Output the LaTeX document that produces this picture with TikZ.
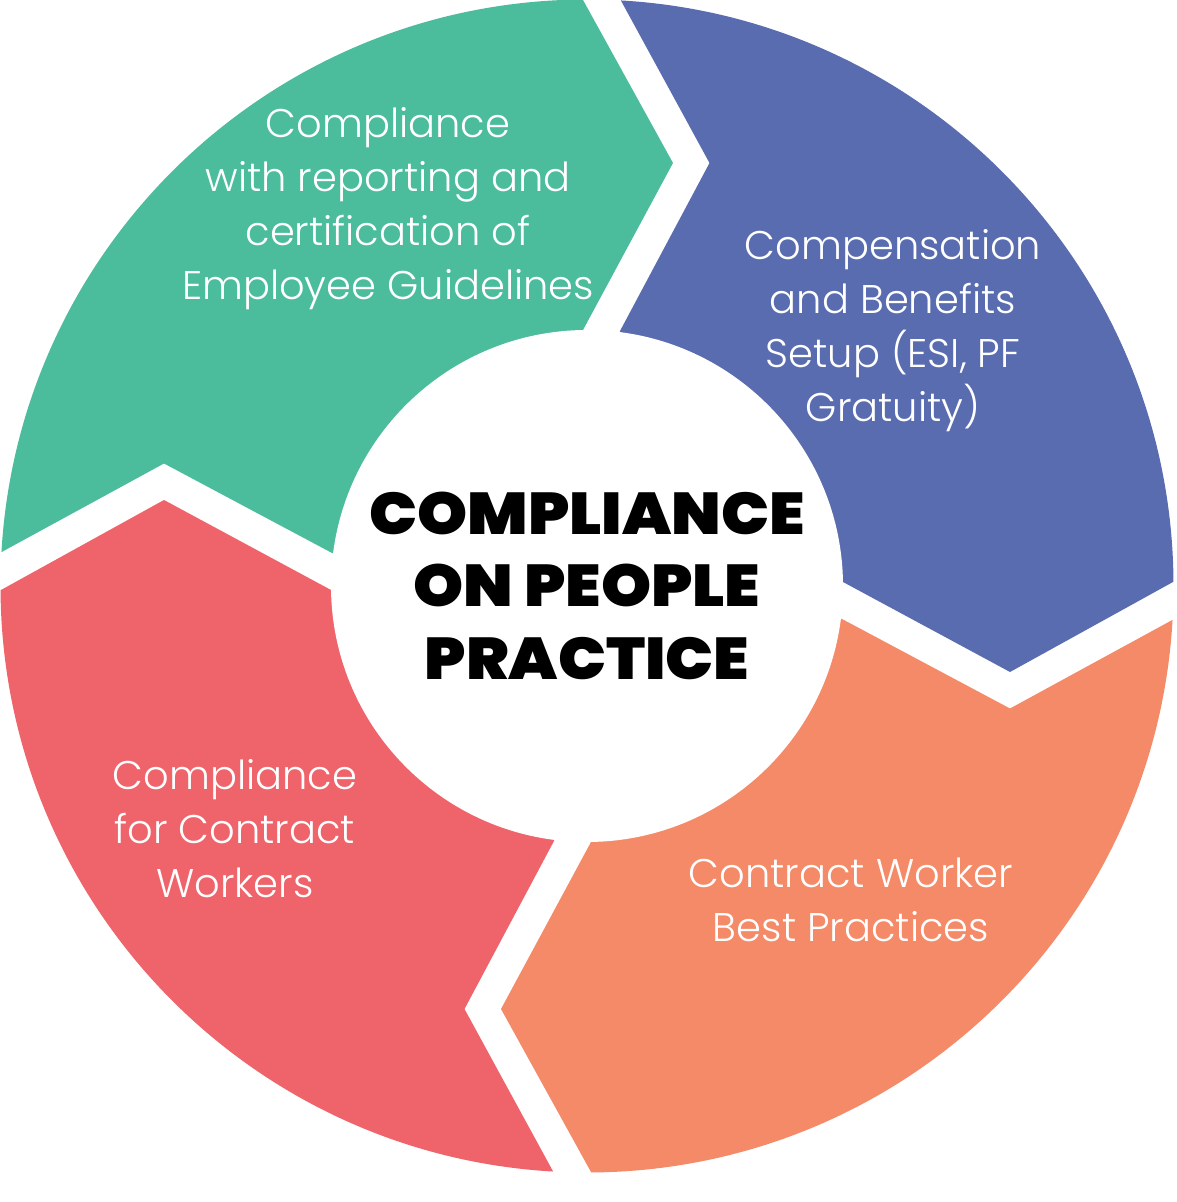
\documentclass[tikz,border=0pt]{standalone}
\usepackage{fontspec}
\setmainfont{Poppins}
\newfontfamily\lightfont{Poppins Light}
\newfontfamily\heavyfont{Poppins Black}[FakeStretch=1.08]
\definecolor{cgreen}{RGB}{75,188,156}
\definecolor{cblue}{RGB}{90,108,176}
\definecolor{corange}{RGB}{244,138,103}
\definecolor{cred}{RGB}{239,99,106}
\tikzset{
  segtext/.style={text=white, align=center, font=\lightfont\fontsize{40}{54}\selectfont, inner sep=0pt},
  hubtext/.style={text=black, align=center, font=\heavyfont\fontsize{59}{72.5}\selectfont, inner sep=0pt}
}
\begin{document}
\begin{tikzpicture}[x=1pt,y=1pt]
\useasboundingbox (0,0) rectangle (1176,1202);
\fill[white] (0,0) rectangle (1176,1202);
\coordinate (C) at (587,616);
\begin{scope}
  \clip (C) circle (586.5);
  \foreach \ang/\col in {0/cgreen,-90/cblue,-180/corange,-270/cred}{
    \begin{scope}[shift={(C)}, rotate=\ang]
      \fill[\col] (0,0) -- (-4,256) -- (86,423) -- (-49,667.5) -- (-800,800)
        -- (-666,-10) -- (-423,122.5) -- (-255,33) -- cycle;
    \end{scope}
  }
\end{scope}
\fill[white] (C) circle (256);
\node[segtext] (tgreen) at (388,993) {Compliance\\with reporting and\\certification of\\Employee Guidelines};
\node[segtext] (tblue) at (893,871) {Compensation\\and Benefits\\Setup (ESI, PF\\Gratuity)};
\node[segtext] (tred) at (235,373) {Compliance\\for Contract\\Workers};
\node[segtext] (torange) at (851,302) {Contract Worker\\Best Practices};
\node[hubtext] (hub) at (587,616.5) {COMPLIANCE\\ON PEOPLE\\PRACTICE};
\end{tikzpicture}
\end{document}
